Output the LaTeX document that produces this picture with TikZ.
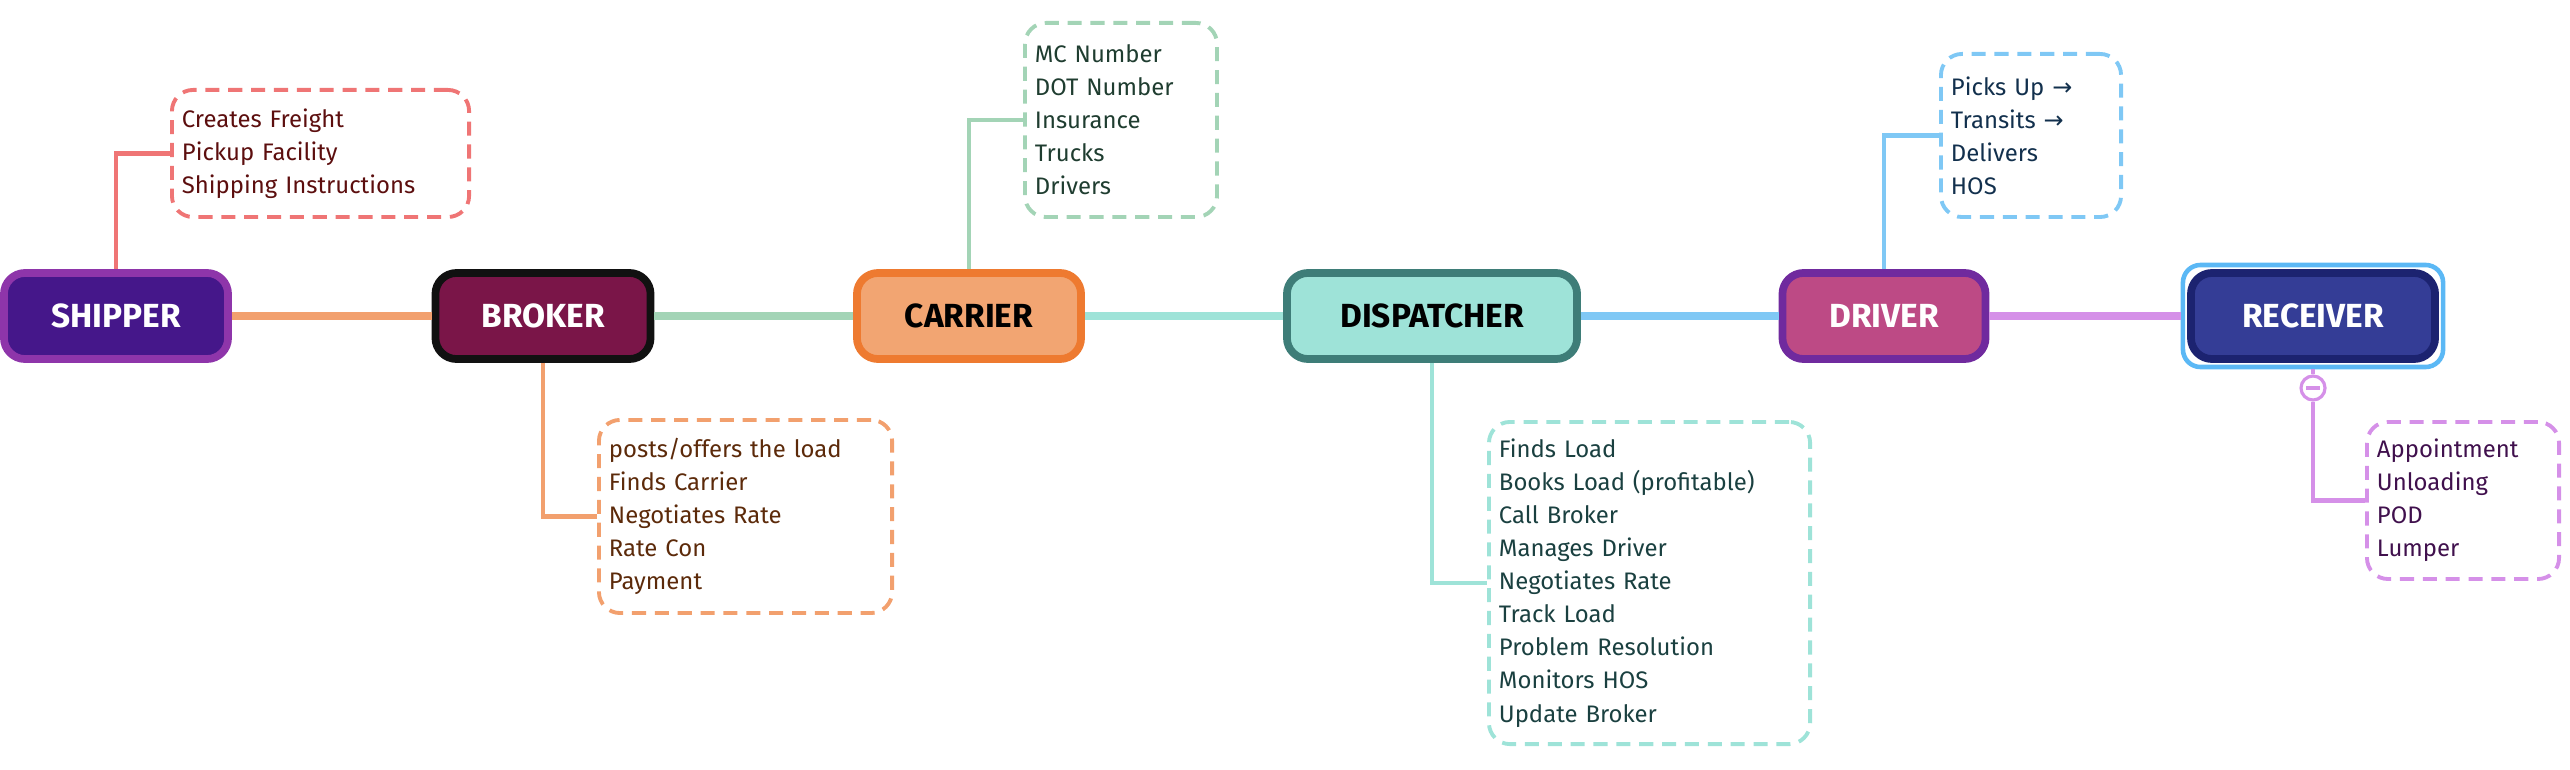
\documentclass[tikz,border=0pt]{standalone}
\usepackage{fontspec}
\setmainfont{Fira Sans}
\newfontfamily\arrowfont{DejaVu Sans}
\newcommand{\toarrow}{{\arrowfont →}}
\definecolor{shipfill}{HTML}{45178A}\definecolor{shipline}{HTML}{8E35AA}
\definecolor{brokfill}{HTML}{7A1548}\definecolor{brokline}{HTML}{111111}
\definecolor{carrfill}{HTML}{F2A572}\definecolor{carrline}{HTML}{EE7A30}
\definecolor{dispfill}{HTML}{9EE3D8}\definecolor{displine}{HTML}{3E7D78}
\definecolor{drivfill}{HTML}{BD4A85}\definecolor{drivline}{HTML}{702A9E}
\definecolor{recvfill}{HTML}{343D96}\definecolor{recvline}{HTML}{1C2370}
\definecolor{recvsel}{HTML}{5BB8F5}
\definecolor{shipinfo}{HTML}{EF7575}\definecolor{shiptext}{HTML}{5C0E0E}
\definecolor{brokinfo}{HTML}{F2A06E}\definecolor{broktext}{HTML}{5C2A0A}
\definecolor{carrinfo}{HTML}{A3D4B6}\definecolor{carrtext}{HTML}{1F3D30}
\definecolor{dispinfo}{HTML}{9EE3D8}\definecolor{disptext}{HTML}{1A4040}
\definecolor{drivinfo}{HTML}{7FC8F5}\definecolor{drivtext}{HTML}{12304D}
\definecolor{recvinfo}{HTML}{D590E8}\definecolor{recvtext}{HTML}{40104D}
\begin{document}
\begin{tikzpicture}[x=0.01cm,y=-0.01cm]
    \tikzstyle{party}=[rounded corners=6pt,line width=2.2pt,text=white,font=\fontsize{9.5}{11}\selectfont\bfseries,minimum height=0.86cm,inner sep=0pt]
    \tikzstyle{info}=[rounded corners=6pt,dashed,line width=1.1pt,dash pattern=on 4pt off 2.5pt,align=left,anchor=north west,font=\fontsize{6.8}{9.4}\selectfont,inner xsep=0.1cm,inner ysep=0pt]
    \tikzstyle{link}=[line width=2pt]
    \tikzstyle{branch}=[line width=1.2pt]
    \useasboundingbox (0,0) rectangle (2570,770);
    % Draw the main chain
      \node[party,fill=shipfill,draw=shipline,minimum width=2.24cm] (shipper) at (116,316) {SHIPPER};
      \node[party,fill=brokfill,draw=brokline,minimum width=2.15cm] (broker) at (543,316) {BROKER};
      \node[party,fill=carrfill,draw=carrline,minimum width=2.24cm,text=black] (carrier) at (969,316) {CARRIER};
      \node[party,fill=dispfill,draw=displine,minimum width=2.9cm,text=black] (dispatcher) at (1432,316) {DISPATCHER};
      \node[party,fill=drivfill,draw=drivline,minimum width=2.03cm] (driver) at (1884,316) {DRIVER};
      \node[party,fill=recvfill,draw=recvline,minimum width=2.44cm] (receiver) at (2313,316) {RECEIVER};
      \node[draw=recvsel,line width=1.3pt,rounded corners=5pt,minimum width=2.6cm,minimum height=1.02cm] (recvframe) at (2313,316) {};
    % Draw the detail boxes
      \node[info,draw=shipinfo,text=shiptext,text width=2.77cm,minimum height=1.27cm] (shipnote) at (170,88) {Creates Freight\\Pickup Facility\\Shipping Instructions};
      \node[info,draw=brokinfo,text=broktext,text width=2.73cm,minimum height=1.93cm] (broknote) at (597,418) {posts/offers the load\\Finds Carrier\\Negotiates Rate\\Rate Con\\Payment};
      \node[info,draw=carrinfo,text=carrtext,text width=1.72cm,minimum height=1.94cm] (carrnote) at (1023,21) {MC Number\\DOT Number\\Insurance\\Trucks\\Drivers};
      \node[info,draw=dispinfo,text=disptext,text width=3.01cm,minimum height=3.22cm] (dispnote) at (1487,420) {Finds Load\\Books Load (profitable)\\Call Broker\\Manages Driver\\Negotiates Rate\\Track Load\\Problem Resolution\\Monitors HOS\\Update Broker};
      \node[info,draw=drivinfo,text=drivtext,text width=1.6cm,minimum height=1.63cm] (drivnote) at (1939,52) {Picks Up \toarrow\\Transits \toarrow\\Delivers\\HOS};
      \node[info,draw=recvinfo,text=recvtext,text width=1.72cm,minimum height=1.57cm] (recvnote) at (2365,420) {Appointment\\Unloading\\POD\\Lumper};
    % Links between the parties
      \draw[link,brokinfo] (shipper) -- (broker);
      \draw[link,carrinfo] (broker) -- (carrier);
      \draw[link,dispinfo] (carrier) -- (dispatcher);
      \draw[link,drivinfo] (dispatcher) -- (driver);
      \draw[link,recvinfo] (driver) -- (recvframe);
    % Branches to the detail boxes
      \draw[branch,shipinfo] (shipper.north) |- (shipnote.west);
      \draw[branch,brokinfo] (broker.south) |- (broknote.west);
      \draw[branch,carrinfo] (carrier.north) |- (carrnote.west);
      \draw[branch,dispinfo] (dispatcher.south) |- (dispnote.west);
      \draw[branch,drivinfo] (driver.north) |- (drivnote.west);
      \node[circle,draw=recvinfo,fill=white,line width=0.9pt,minimum size=0.24cm,inner sep=0pt] (fold) at (2313,388) {};
      \draw[recvinfo,line width=0.9pt] ([xshift=-0.07cm]fold.center) -- ([xshift=0.07cm]fold.center);
      \draw[branch,recvinfo] (recvframe.south) -- (fold.north);
      \draw[branch,recvinfo] (fold.south) |- (recvnote.west);
\end{tikzpicture}
\end{document}
